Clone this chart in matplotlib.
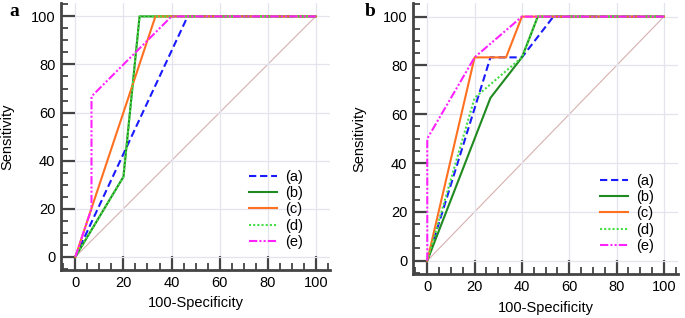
import numpy as np
import matplotlib.pyplot as plt
from matplotlib.ticker import MultipleLocator

plt.rcParams['font.family'] = ['Liberation Sans', 'DejaVu Sans']

labels = ['(a)', '(b)', '(c)', '(d)', '(e)']
colors = ['#1a1aff', '#1f8a1f', '#ff7020', '#44dd44', '#ff22ff']
styles = [(0, (3.5, 1.8)), '-', '-', (0, (1, 1)), (0, (4, 1, 1, 1, 1, 1))]

# panel a: (100-specificity, sensitivity)
a_x = [[0, 46.7, 100], [0, 20, 26.7, 100], [0, 33.3, 100], [0, 20, 26.7, 100], [0, 6.7, 6.7, 40, 100]]
a_y = [[0, 100, 100], [0, 33.3, 100, 100], [0, 100, 100], [0, 33.3, 100, 100], [0, 20, 66.7, 100, 100]]

# panel b
b_x = [[0, 26.7, 40, 53.3, 100], [0, 26.7, 40, 46.7, 100], [0, 20, 33.3, 40, 100],
       [0, 20, 40, 46.7, 100], [0, 0, 20, 40, 100]]
b_y = [[0, 83.3, 83.3, 100, 100], [0, 66.7, 83.3, 100, 100], [0, 83.3, 83.3, 100, 100],
       [0, 66.7, 83.3, 100, 100], [0, 50, 83.3, 100, 100]]

fig = plt.figure(figsize=(6.85, 3.18), dpi=100)
ax1 = fig.add_axes([0.089, 0.151, 0.393, 0.839])
ax2 = fig.add_axes([0.603, 0.138, 0.387, 0.852])


def draw(ax, xs, ys, lx):
    ax.plot([0, 100], [0, 100], color='#d8b0b0', lw=0.8, zorder=1)
    for x, y, c, s, l in zip(xs, ys, colors, styles, labels):
        ax.plot(x, y, color=c, ls=s, lw=1.5, label=l, zorder=3)
    ax.set_xlim(-6, 106)
    ax.set_ylim(-5.5, 105.5)
    ax.xaxis.set_major_locator(MultipleLocator(20))
    ax.yaxis.set_major_locator(MultipleLocator(20))
    ax.xaxis.set_minor_locator(MultipleLocator(5))
    ax.yaxis.set_minor_locator(MultipleLocator(5))
    ax.grid(True, which='major', color='#e4e4ee', lw=0.9, zorder=0)
    ax.tick_params(which='major', direction='in', length=10, width=1.6, color='#444444',
                   labelsize=10.5, pad=4)
    ax.tick_params(which='minor', direction='in', length=5, width=1.3, color='#444444')
    for sp in ['top', 'right']:
        ax.spines[sp].set_visible(False)
    for sp in ['left', 'bottom']:
        ax.spines[sp].set_linewidth(2)
        ax.spines[sp].set_color('#444444')
    ax.set_xlabel('100-Specificity', fontsize=10.5, labelpad=5)
    ax.set_ylabel('Sensitivity', fontsize=10.5, labelpad=12)
    ax.legend(loc='lower right', bbox_to_anchor=(lx, 0.03), frameon=False, fontsize=10.5,
              handlelength=1.9, labelspacing=0.15, handletextpad=0.6)


draw(ax1, a_x, a_y, 0.95)
draw(ax2, b_x, b_y, 0.96)

fig.text(0.014, 0.99, 'a', fontsize=14, fontweight='bold', family='Liberation Serif', va='top')
fig.text(0.532, 0.99, 'b', fontsize=14, fontweight='bold', family='Liberation Serif', va='top')

plt.savefig('out.png', dpi=100)
